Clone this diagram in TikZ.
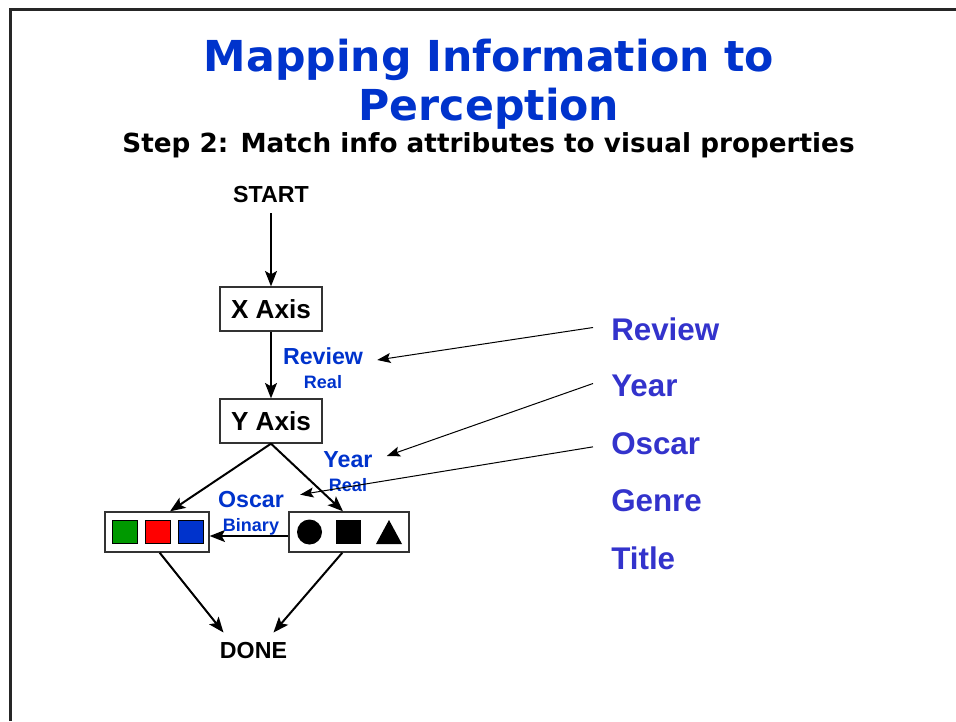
\documentclass[tikz,border=0pt]{standalone}
\usepackage{fontspec}
\setmainfont{Liberation Sans}
\newfontfamily\slidefont{DejaVu Sans}
\usetikzlibrary{arrows.meta, positioning}
\definecolor{titleblue}{RGB}{0, 51, 204}
\definecolor{listblue}{RGB}{51, 51, 204}
\definecolor{swgreen}{RGB}{0, 153, 0}
\definecolor{swred}{RGB}{255, 0, 0}

\begin{document}
\begin{tikzpicture}[x=0.75pt, y=-0.75pt,
    flowbox/.style={draw=black!80, line width=1pt, fill=white, minimum width=76.5pt, minimum height=33pt, inner sep=0pt, font=\fontsize{19.6}{22}\selectfont\bfseries},
    pairbox/.style={draw=black!80, line width=1pt, fill=white, minimum height=30pt, inner sep=0pt},
    term/.style={inner xsep=0pt, inner ysep=7.5pt, font=\fontsize{17.4}{20}\selectfont\bfseries},
    maplabel/.style={inner sep=0pt, text=titleblue, font=\fontsize{17.4}{20}\selectfont\bfseries},
    sublabel/.style={inner sep=0pt, text=titleblue, font=\fontsize{13.5}{16}\selectfont\bfseries},
    attr/.style={anchor=west, inner sep=0pt, text=listblue, font=\fontsize{23.5}{27}\selectfont\bfseries},
    swatch/.style={draw=black, line width=0.6pt, minimum width=18.75pt, minimum height=17.25pt, inner sep=0pt},
    flow/.style={line width=1.5pt, -{Stealth[length=11.5pt, width=9pt, inset=2.5pt]}},
    pointer/.style={line width=0.75pt, -{Stealth[length=10pt, width=7.5pt, inset=2pt]}}]

    \useasboundingbox (0,0) rectangle (956,721);

    % --- ramka slajdu ---
    \draw[line width=2.25pt, black!85] (10,721) -- (10,9) -- (956,9);

    % --- Tytul ---
    \node[anchor=base, inner sep=0pt, text=titleblue, font=\slidefont\fontsize{32}{38}\selectfont\bfseries] (title1) at (489,71) {Mapping Information to};
    \node[anchor=base, inner sep=0pt, text=titleblue, font=\slidefont\fontsize{32}{38}\selectfont\bfseries] (title2) at (489,120) {Perception};
    \node[anchor=base, inner sep=0pt, font=\slidefont\fontsize{19.7}{24}\selectfont\bfseries] (subtitle) at (488.5,152) {Step 2: Match info attributes to visual properties};

    % --- Przeplyw ---
    \node[term] (start) at (271,195) {START};
    \node[flowbox] (xaxis) at (271,309) {X Axis};
    \node[flowbox] (yaxis) at (271,421) {Y Axis};

    % Pudelko z kolorami
    \node[pairbox, minimum width=78pt] (colors) at (157,532) {};
    \node[swatch, fill=swgreen] (sgreen) at (124.5,531.5) {};
    \node[swatch, fill=swred, right=5.6pt of sgreen] (sred) {};
    \node[swatch, fill=titleblue, right=5.6pt of sred] (sblue) {};

    % Pudelko z ksztaltami
    \node[pairbox, minimum width=90pt] (shapes) at (349,532) {};
    \fill[black] (309.5,532) circle (12.5);
    \fill[black] (336,520) rectangle (361,544);
    \fill[black] (376,544) -- (402,544) -- (389,520) -- cycle;

    \node[term] (done) at (253.5,651) {DONE};

    % Strzalki
    \draw[flow] (start.south -| xaxis.north) -- (xaxis.north);
    \draw[flow] (xaxis) -- (yaxis);
    \draw[flow] (yaxis.south) -- ([xshift=9.75pt]colors.north);
    \draw[flow] (yaxis.south) -- ([xshift=-4.5pt]shapes.north);
    \draw[flow] ([yshift=-3pt]shapes.west) -- ([yshift=-3pt]colors.east);
    \draw[flow] ([xshift=2pt]colors.south) -- ([xshift=-22.5pt]done.north);
    \draw[flow] ([xshift=-5pt]shapes.south) -- ([xshift=15pt]done.north);

    % --- Etykiety przypisan ---
    \node[maplabel] (lreview) at (323,356) {Review};
    \node[sublabel, below=7.5pt of lreview] (lreviewreal) {Real};
    \node[maplabel] (lyear) at (348,460) {Year};
    \node[sublabel, below=7pt of lyear] (lyearreal) {Real};
    \node[maplabel] (loscar) at (251,500) {Oscar};
    \node[sublabel, below=7.5pt of loscar] (loscarbin) {Binary};

    % --- Lista atrybutow ---
    \node[attr] (areview) at (611,329.5) {Review};
    \node[attr] (ayear) at (611,385.5) {Year};
    \node[attr] (aoscar) at (611,443.5) {Oscar};
    \node[attr] (agenre) at (611,501) {Genre};
    \node[attr] (atitle) at (611,558.5) {Title};

    \draw[pointer] ([xshift=-13.5pt, yshift=1.5pt]areview.west) -- ([xshift=10.5pt, yshift=-3pt]lreview.east);
    \draw[pointer] ([xshift=-13.5pt, yshift=1.5pt]ayear.west) -- ([xshift=10.5pt, yshift=3pt]lyear.east);
    \draw[pointer] ([xshift=-13.5pt, yshift=-2.5pt]aoscar.west) -- ([xshift=12pt, yshift=4pt]loscar.east);
\end{tikzpicture}
\end{document}
